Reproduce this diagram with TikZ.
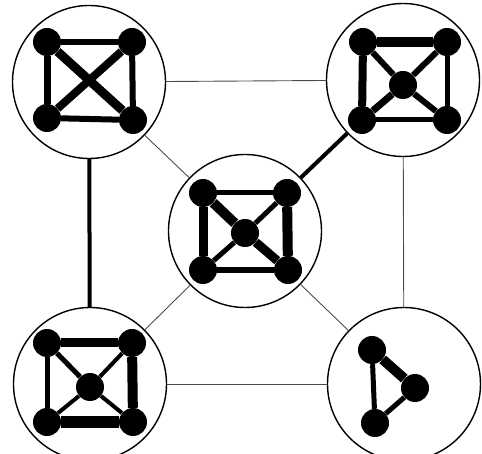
\documentclass[tikz,border=0pt]{standalone}
\usepackage{tikz}
\usetikzlibrary{positioning}

\begin{document}
\begin{tikzpicture}[
      x=1pt, y=-1pt,
      blob/.style={circle, draw=black, line width=1.4pt, fill=white, minimum size=153pt, inner sep=0pt},
      vtx/.style={circle, fill=black, minimum size=28pt, inner sep=0pt},
      link/.style={draw=black!70, line width=0.9pt},
      heavy/.style={draw=black, line width=4pt},
      e/.style={draw=black, line width=#1pt}
    ]
      \clip (0,0) rectangle (482,454);

      % clusters
      \node[blob] (tl) at (89,82) {};
      \node[blob] (tr) at (403,80) {};
      \node[blob] (mid) at (245,231) {};
      \node[blob] (bl) at (90,384) {};
      \node[blob] (br) at (404,384) {};

      % links between clusters
      \draw[link] (tl) -- (tr);
      \draw[link] (tl) -- (mid);
      \draw[link] (tr) -- (br);
      \draw[link] (mid) -- (bl);
      \draw[link] (mid) -- (br);
      \draw[link] (bl) -- (br);
      \draw[heavy] (tl) -- (bl);
      \draw[heavy] (tr) -- (mid);

      % top left: K4
      \node[vtx] (tl1) at (47,42) {};
      \node[vtx] (tl2) at (132,42) {};
      \node[vtx] (tl3) at (47,118) {};
      \node[vtx] (tl4) at (133,120) {};
      \draw[e=6] (tl1) -- (tl2);
      \draw[e=7] (tl1) -- (tl3);
      \draw[e=6] (tl2) -- (tl4);
      \draw[e=6] (tl3) -- (tl4);
      \draw[e=9] (tl1) -- (tl4);
      \draw[e=8] (tl2) -- (tl3);

      % top right: wheel
      \node[vtx] (tr1) at (363,42) {};
      \node[vtx] (tr2) at (447,42) {};
      \node[vtx] (tr3) at (362,120) {};
      \node[vtx] (tr4) at (447,120) {};
      \node[vtx] (tr0) at (403,85) {};
      \draw[e=10] (tr1) -- (tr2);
      \draw[e=8] (tr1) -- (tr3);
      \draw[e=5] (tr2) -- (tr4);
      \draw[e=5] (tr3) -- (tr4);
      \draw[e=6] (tr1) -- (tr0);
      \draw[e=6] (tr2) -- (tr0);
      \draw[e=7] (tr3) -- (tr0);
      \draw[e=6] (tr4) -- (tr0);

      % middle: wheel
      \node[vtx] (md1) at (203,193) {};
      \node[vtx] (md2) at (287,193) {};
      \node[vtx] (md3) at (203,270) {};
      \node[vtx] (md4) at (288,270) {};
      \node[vtx] (md0) at (245,233) {};
      \draw[e=5] (md1) -- (md2);
      \draw[e=9] (md1) -- (md3);
      \draw[e=10] (md2) -- (md4);
      \draw[e=6] (md3) -- (md4);
      \draw[e=10] (md1) -- (md0);
      \draw[e=5] (md2) -- (md0);
      \draw[e=5] (md3) -- (md0);
      \draw[e=9] (md4) -- (md0);

      % bottom left: wheel
      \node[vtx] (bl1) at (47,343) {};
      \node[vtx] (bl2) at (132,343) {};
      \node[vtx] (bl3) at (47,422) {};
      \node[vtx] (bl4) at (133,422) {};
      \node[vtx] (bl0) at (90,387) {};
      \draw[e=9] (bl1) -- (bl2);
      \draw[e=5] (bl1) -- (bl3);
      \draw[e=10] (bl2) -- (bl4);
      \draw[e=12] (bl3) -- (bl4);
      \draw[e=5] (bl1) -- (bl0);
      \draw[e=4] (bl2) -- (bl0);
      \draw[e=4] (bl3) -- (bl0);
      \draw[e=4] (bl4) -- (bl0);

      % bottom right: triangle
      \node[vtx] (br1) at (372,350) {};
      \node[vtx] (br2) at (415,388) {};
      \node[vtx] (br3) at (375,423) {};
      \draw[e=10] (br1) -- (br2);
      \draw[e=5] (br1) -- (br3);
      \draw[e=5] (br3) -- (br2);
    \end{tikzpicture}
\end{document}
